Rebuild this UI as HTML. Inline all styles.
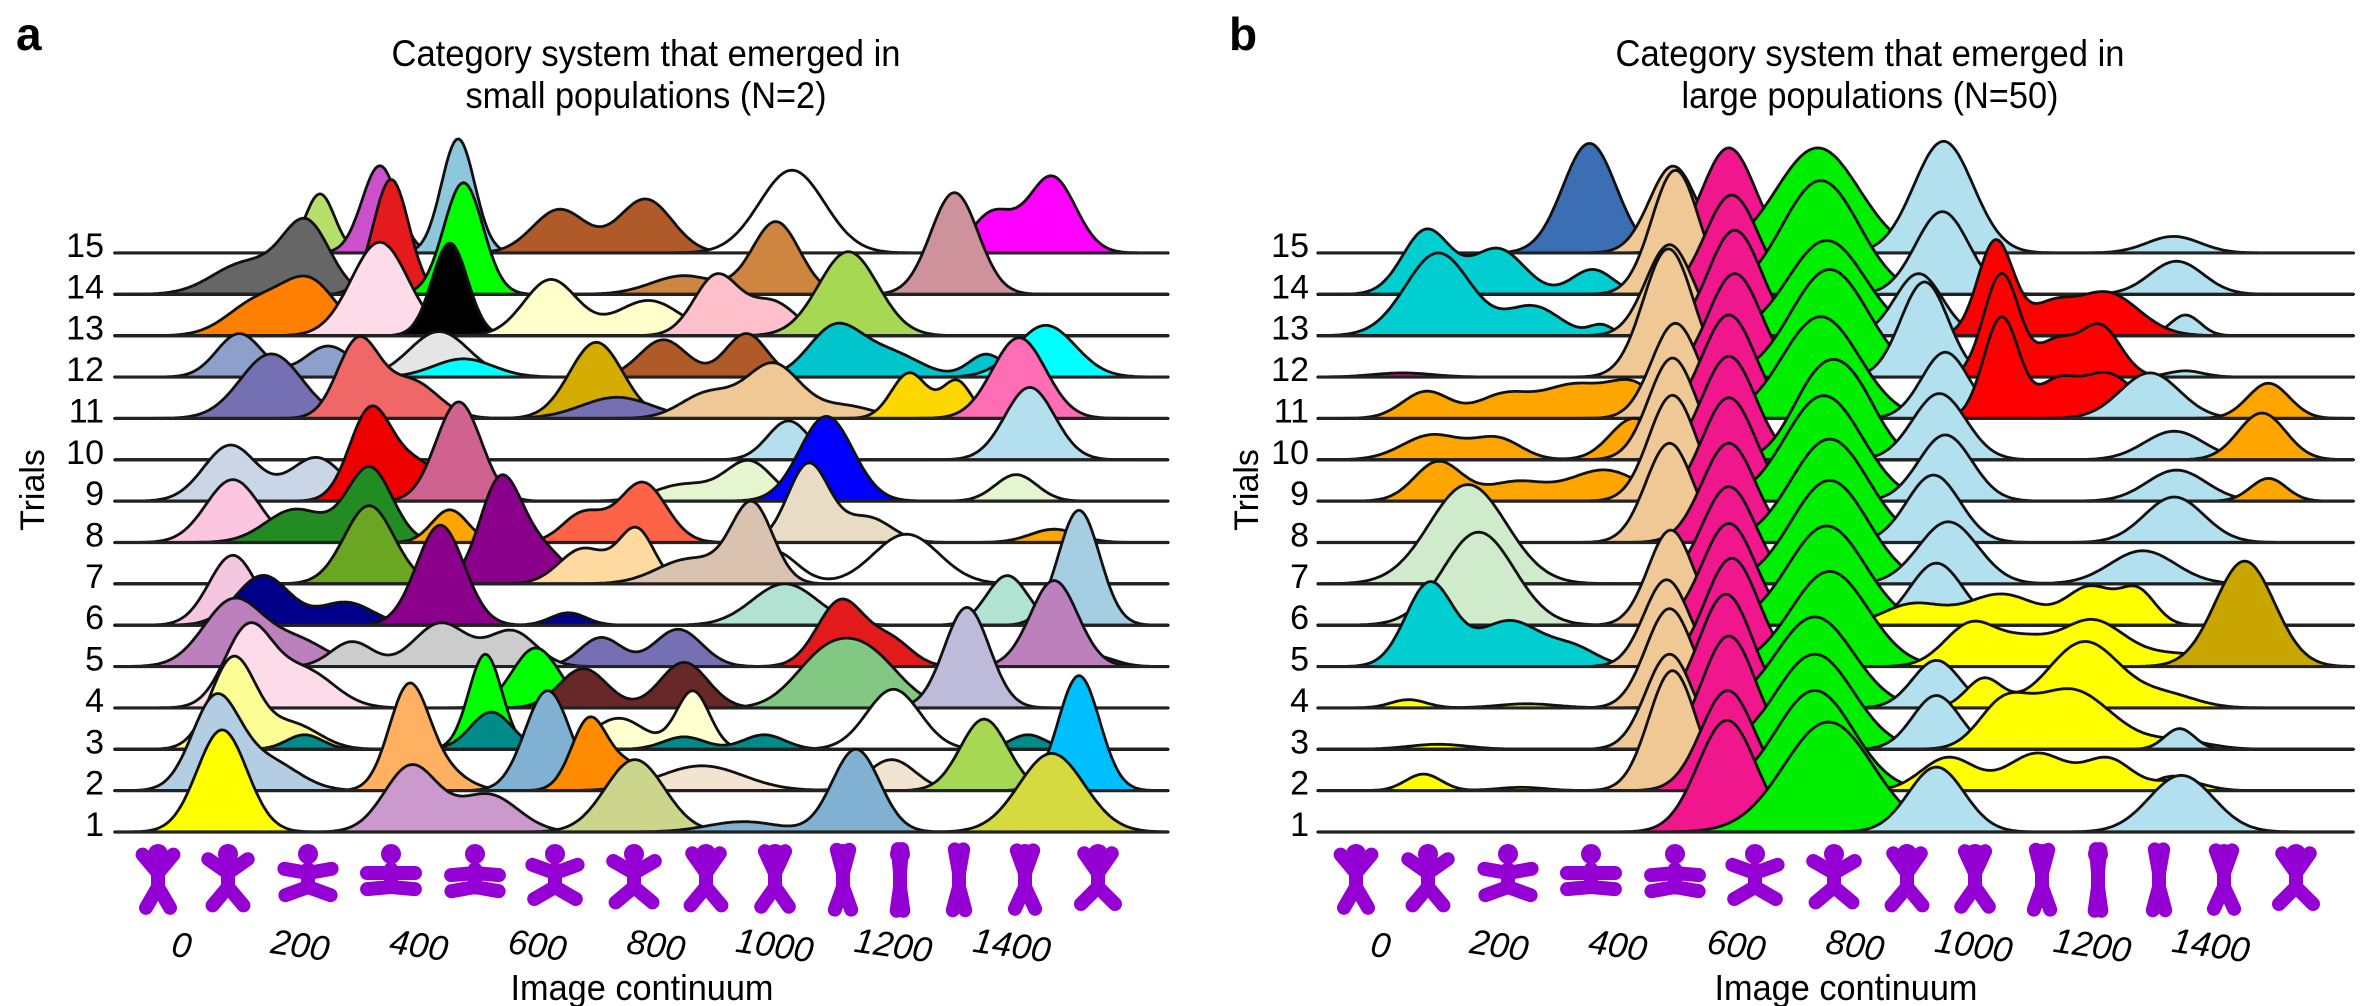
<!DOCTYPE html>
<html><head><meta charset="utf-8">
<style>
html,body{margin:0;padding:0;background:#fff;}
svg{display:block;}
text{font-family:"Liberation Sans",Arial,sans-serif;fill:#000;}
</style></head>
<body>
<svg id="fig" width="2370" height="1006" viewBox="0 0 2370 1006" xmlns="http://www.w3.org/2000/svg">
  <text x="16" y="50" font-size="46" font-weight="bold">a</text>
  <text x="1229" y="50" font-size="46" font-weight="bold">b</text>
  <text x="646" y="66" font-size="37" text-anchor="middle" textLength="509" lengthAdjust="spacingAndGlyphs">Category system that emerged in</text>
  <text x="646" y="108" font-size="37" text-anchor="middle" textLength="361" lengthAdjust="spacingAndGlyphs">small populations (N=2)</text>
  <text x="1870" y="66" font-size="37" text-anchor="middle" textLength="509" lengthAdjust="spacingAndGlyphs">Category system that emerged in</text>
  <text x="1870" y="108" font-size="37" text-anchor="middle" textLength="377" lengthAdjust="spacingAndGlyphs">large populations (N=50)</text>
  <text transform="translate(44,490) rotate(-90)" font-size="34" text-anchor="middle">Trials</text>
  <text transform="translate(1258,490) rotate(-90)" font-size="34" text-anchor="middle">Trials</text>
  <text x="642" y="1000" font-size="36" text-anchor="middle" textLength="263" lengthAdjust="spacingAndGlyphs">Image continuum</text>
  <text x="1846" y="1000" font-size="36" text-anchor="middle" textLength="263" lengthAdjust="spacingAndGlyphs">Image continuum</text>
  <g id="panelA"></g>
  <g id="panelB"></g>
</svg>
<script>
// ---- data ----
const trials = [1,2,3,4,5,6,7,8,9,10,11,12,13,14,15];
const tickValues = [0,200,400,600,800,1000,1200,1400];
const tickLabels = ["0","200","400","600","800","1000","1200","1400"];
// panel a components: [trial, color, [[mean, sd, height(in trial spacings)], ...]] in draw order
const compsA = [
 [15,'#b5de6b',[[236,25,1.43]]],
 [15,'#cc4fcc',[[337,30,2.11]]],
 [15,'#8ec6dc',[[469,28,2.76]]],
 [15,'#b05a2a',[[640,45,1.05],[785,45,1.3]]],
 [15,'#ffffff',[[1032,55,2.0]]],
 [15,'#ff00ff',[[1470,40,1.85],[1370,35,0.95]]],
 [14,'#666666',[[213,40,1.7],[110,55,0.75]]],
 [14,'#e41a1c',[[356,30,2.78]]],
 [14,'#00ff00',[[478,33,2.7]]],
 [14,'#cd853f',[[1005,40,1.75],[850,55,0.45]]],
 [14,'#cd929c',[[1306,40,2.46]]],
 [13,'#ff7f00',[[130,50,0.8],[220,45,1.25]]],
 [13,'#fddbe9',[[337,48,2.26]]],
 [13,'#000000',[[455,30,2.24]]],
 [13,'#ffffcc',[[625,45,1.35],[790,55,0.85]]],
 [13,'#ffbfcb',[[905,38,1.45],[1000,40,0.8]]],
 [13,'#a6d854',[[1127,50,2.03]]],
 [12,'#8da0cb',[[100,38,1.05],[250,40,0.75]]],
 [12,'#e5e5e5',[[437,50,1.1]]],
 [12,'#00ffff',[[478,50,0.44]]],
 [12,'#b05a2a',[[815,40,0.9],[955,35,1.05]]],
 [12,'#00c5cd',[[1105,45,1.2],[1200,50,0.55],[1360,30,0.55]]],
 [12,'#00ffff',[[1460,50,1.25]]],
 [11,'#7570b3',[[154,52,1.56]]],
 [11,'#f06767',[[300,35,1.85],[390,45,0.9]]],
 [11,'#d4ac00',[[702,45,1.84]]],
 [11,'#7570b3',[[737,60,0.51]]],
 [11,'#f0c896',[[1000,45,1.3],[890,45,0.6],[1120,50,0.3]]],
 [11,'#ffd700',[[1230,30,1.1],[1310,25,0.9]]],
 [11,'#ff6eb4',[[1415,45,1.95]]],
 [10,'#b3dfee',[[1026,35,0.94]]],
 [10,'#b3dfee',[[1433,42,1.75]]],
 [9,'#cbd5e8',[[85,45,1.35],[230,45,1.05]]],
 [9,'#ee0000',[[320,35,2.1],[400,45,0.9]]],
 [9,'#d06290',[[470,38,2.4]]],
 [9,'#e5f5d0',[[960,40,0.95],[850,50,0.4]]],
 [9,'#0000ff',[[1090,45,2.05]]],
 [9,'#e5f5d0',[[1410,35,0.64]]],
 [8,'#fcc5e0',[[89,45,1.52]]],
 [8,'#228b22',[[320,38,1.8],[195,50,0.8]]],
 [8,'#ffa500',[[455,30,0.79]]],
 [8,'#ff6347',[[780,40,1.45],[680,35,0.7]]],
 [8,'#e8dcc4',[[1060,35,1.9],[1160,40,0.6]]],
 [8,'#ffa500',[[1474,40,0.32]]],
 [7,'#6aa621',[[319,42,1.89]]],
 [7,'#8b008b',[[540,35,2.45],[610,40,0.8]]],
 [7,'#ffdaa0',[[770,30,1.3],[680,40,0.85]]],
 [7,'#ffffff',[[1000,40,0.8],[1225,55,1.2]]],
 [7,'#d9c2b0',[[965,35,1.9],[860,55,0.6]]],
 [6,'#f4c6e0',[[89,40,1.69]]],
 [6,'#00008b',[[140,45,1.2],[280,45,0.55],[655,30,0.3]]],
 [6,'#8b008b',[[439,40,2.42]]],
 [6,'#b2e2d2',[[1020,55,1.0],[1395,35,1.2]]],
 [6,'#a6cee3',[[1516,35,2.78]]],
 [5,'#7570b3',[[60,40,0.23],[710,35,0.7],[840,40,0.9],[1539,35,0.27]]],
 [5,'#bc80bd',[[90,50,1.6],[200,50,0.6]]],
 [5,'#cccccc',[[290,35,0.6],[440,45,1.05],[560,40,0.85]]],
 [5,'#e31a1c',[[1115,40,1.6],[1200,35,0.6]]],
 [5,'#bc80bd',[[1474,40,2.08]]],
 [4,'#fddbe9',[[115,40,1.9],[210,50,0.9]]],
 [4,'#00ff00',[[600,40,1.45]]],
 [4,'#692828',[[680,40,0.95],[850,40,1.1]]],
 [4,'#82c882',[[1080,50,1.0],[1160,55,1.25]]],
 [4,'#bebada',[[1327,38,2.43]]],
 [3,'#fdfd96',[[90,38,2.2],[190,45,0.6]]],
 [3,'#00ff00',[[515,28,2.3]]],
 [3,'#ffffd0',[[865,28,1.4],[740,45,0.75]]],
 [3,'#ffffff',[[1203,45,1.45]]],
 [3,'#008b8b',[[210,30,0.35],[525,35,0.9],[850,35,0.3],[985,35,0.35],[1430,30,0.35]]],
 [2,'#b3cde3',[[60,40,2.2],[150,50,0.7]]],
 [2,'#ffb060',[[385,33,2.4],[440,40,0.5]]],
 [2,'#80b1d3',[[620,38,2.42]]],
 [2,'#ff8c00',[[690,30,1.7],[760,35,0.6]]],
 [2,'#f2e4d0',[[880,70,0.6],[1200,40,0.75]]],
 [2,'#a6d854',[[1356,40,1.73]]],
 [2,'#00bfff',[[1516,35,2.78]]],
 [1,'#ffff00',[[71,42,2.47]]],
 [1,'#cc99cc',[[390,45,1.6],[520,50,0.9]]],
 [1,'#cbd58b',[[767,50,1.75]]],
 [1,'#80b1d3',[[1140,40,2.0],[950,60,0.25]]],
 [1,'#d4da40',[[1470,55,1.9]]]
];
// panel b components
const compsB = [
 [15,'#3c6eb4',[[355,45,2.65]]],
 [15,'#f0c896',[[496,40,2.1]]],
 [15,'#f0168c',[[590,45,2.54]]],
 [15,'#00ee00',[[740,70,2.54]]],
 [15,'#b3e0ef',[[952,50,2.7],[1340,45,0.4]]],
 [14,'#00ced1',[[80,40,1.55],[200,45,1.1],[360,35,0.6]]],
 [14,'#f0c896',[[500,40,3.0]]],
 [14,'#f0168c',[[595,45,2.4]]],
 [14,'#00ee00',[[745,65,2.75]]],
 [14,'#b3e0ef',[[950,45,2.0],[1345,45,0.8]]],
 [13,'#00ced1',[[100,55,2.0],[260,45,0.7],[375,20,0.25]]],
 [13,'#f0c896',[[490,40,2.2]]],
 [13,'#f0168c',[[600,45,2.55]]],
 [13,'#00ee00',[[755,65,2.3]]],
 [13,'#b3e0ef',[[910,40,1.5],[1360,25,0.5]]],
 [13,'#ff0000',[[1040,30,2.3],[1130,35,0.6],[1225,55,1.05]]],
 [12,'#c71585',[[40,50,0.1]]],
 [12,'#f0c896',[[488,42,3.1]]],
 [12,'#f0168c',[[600,45,2.5]]],
 [12,'#00ee00',[[760,65,2.6]]],
 [12,'#b3e0ef',[[920,40,2.3],[1360,30,0.15]]],
 [12,'#ff0000',[[1050,30,2.5],[1140,30,0.8],[1215,35,1.25]]],
 [11,'#ffa500',[[80,40,0.65],[210,45,0.55],[330,55,0.8],[430,40,0.75]]],
 [11,'#f0c896',[[500,40,2.3]]],
 [11,'#f0168c',[[590,45,2.5]]],
 [11,'#00ee00',[[745,65,2.46]]],
 [11,'#b3e0ef',[[955,40,1.6]]],
 [11,'#ff0000',[[1050,30,2.45],[1140,30,0.7],[1225,50,1.1]]],
 [11,'#b3e0ef',[[1300,50,1.1]]],
 [11,'#ffa500',[[1500,35,0.85]]],
 [10,'#ffa500',[[90,50,0.6],[200,40,0.5],[430,40,1.0]]],
 [10,'#f0c896',[[495,40,2.46]]],
 [10,'#f0168c',[[590,45,2.5]]],
 [10,'#00ee00',[[735,45,1.6],[800,45,1.55]]],
 [10,'#b3e0ef',[[945,45,1.6],[1341,50,0.69]]],
 [10,'#ffa500',[[1489,40,1.13]]],
 [9,'#ffa500',[[100,40,0.95],[230,50,0.45],[380,60,0.75]]],
 [9,'#f0c896',[[495,40,2.56]]],
 [9,'#f0168c',[[590,45,2.5]]],
 [9,'#00ee00',[[750,65,2.55]]],
 [9,'#b3e0ef',[[955,45,1.6],[1345,50,0.75]]],
 [9,'#ffa500',[[1500,30,0.55]]],
 [8,'#f0c896',[[490,40,2.4]]],
 [8,'#f0168c',[[590,45,2.4]]],
 [8,'#00ee00',[[760,65,2.5]]],
 [8,'#b3e0ef',[[935,45,1.63],[1341,50,1.1]]],
 [7,'#d0ebcc',[[150,65,2.4]]],
 [7,'#f0168c',[[590,45,2.35]]],
 [7,'#00ee00',[[760,65,2.5]]],
 [7,'#b3e0ef',[[960,50,1.5],[1288,55,0.8]]],
 [6,'#d0ebcc',[[168,60,2.25]]],
 [6,'#f0c896',[[492,38,2.3]]],
 [6,'#f0168c',[[590,45,2.46]]],
 [6,'#00ee00',[[755,65,2.4]]],
 [6,'#b3e0ef',[[940,45,1.5]]],
 [6,'#ffff00',[[900,50,0.5],[1050,60,0.75],[1200,40,0.9],[1280,30,0.8]]],
 [5,'#00ced1',[[85,40,2.0],[220,55,1.1],[330,40,0.4]]],
 [5,'#f0c896',[[485,38,2.1]]],
 [5,'#f0168c',[[595,45,2.62]]],
 [5,'#00ee00',[[760,65,2.3]]],
 [5,'#ffff00',[[1000,45,1.05],[1090,40,0.5],[1200,55,1.1],[1350,70,0.3]]],
 [5,'#c9a500',[[1460,50,2.55]]],
 [4,'#ffff00',[[50,30,0.2],[250,50,0.1]]],
 [4,'#f0c896',[[490,40,2.4]]],
 [4,'#f0168c',[[585,45,2.75]]],
 [4,'#00ee00',[[735,65,2.2]]],
 [4,'#b3e0ef',[[940,40,1.15]]],
 [4,'#ffff00',[[1020,30,0.7],[1190,60,1.6],[1330,50,0.3]]],
 [3,'#ffff00',[[100,50,0.12]]],
 [3,'#f0c896',[[490,40,2.3]]],
 [3,'#f0168c',[[590,45,2.74]]],
 [3,'#00ee00',[[735,65,2.3]]],
 [3,'#b3e0ef',[[940,40,1.3]]],
 [3,'#ffff00',[[1050,40,0.9],[1165,70,1.45],[1350,50,0.2]]],
 [3,'#b3e0ef',[[1350,25,0.5]]],
 [2,'#ffff00',[[75,30,0.4],[240,40,0.08]]],
 [2,'#f0c896',[[495,40,2.9]]],
 [2,'#f0168c',[[588,45,2.42]]],
 [2,'#00ee00',[[735,65,2.42]]],
 [2,'#b3e0ef',[[1340,35,0.35]]],
 [2,'#ffff00',[[960,45,0.8],[1110,50,0.9],[1230,40,0.75],[1350,40,0.25]]],
 [1,'#f0168c',[[587,49,2.7]]],
 [1,'#00ee00',[[758,75,2.66]]],
 [1,'#b3e0ef',[[940,47,1.57],[1353,54,1.37]]]
];

// ---- layout ----
const NS = 'http://www.w3.org/2000/svg';
const SPACING = 41.36;
function yBase(t){ return 832 - (t-1)*SPACING; }
const panels = [
  {id:'panelA', key:'a', x0:180, k:0.593, vmin:-110, vmax:1666, comps:compsA, labelX:104,
   icons:[158,228,308,391,475,555,634,706,775,843,900,959,1025,1098]},
  {id:'panelB', key:'b', x0:1379, k:0.593, vmin:-103, vmax:1643, comps:compsB, labelX:1309,
   icons:[1356,1428,1508,1591,1675,1755,1834,1907,1975,2042,2098,2159,2224,2296]}
];
const poses = [[-40,40,30,-30],[-55,55,40,-40],[-80,80,70,-70],[-90,90,85,-85],[-95,95,80,-80],
  [-70,70,60,-60],[-60,60,50,-50],[-35,35,40,-40],[-25,25,35,-35],[-15,15,20,-20],[-5,5,8,-8],
  [-10,10,15,-15],[-20,20,25,-25],[-35,35,45,-45]];

function density(cs, v){
  let s = 0;
  for (const c of cs){ const z=(v-c[0])/c[1]; s += c[2]*Math.exp(-0.5*z*z); }
  return s;
}

panels.forEach(p => {
  const g = document.getElementById(p.id);
  const sx = v => p.x0 + v*p.k;
  for (let t = 15; t >= 1; t--){
    const tg = document.createElementNS(NS,'g');
    
    
    g.appendChild(tg);
    const yb = yBase(t);
    p.comps.filter(c => c[0]===t).forEach((c, i) => {
      let d = 'M'+sx(p.vmin).toFixed(1)+','+yb;
      for (let v = p.vmin; v <= p.vmax; v += 4){
        d += 'L'+sx(v).toFixed(1)+','+(yb - SPACING*density(c[2], v)).toFixed(1);
      }
      d += 'L'+sx(p.vmax).toFixed(1)+','+yb+'Z';
      const path = document.createElementNS(NS,'path');
      path.setAttribute('d', d);
      path.setAttribute('fill', c[1]);
      path.setAttribute('stroke', '#111');
      path.setAttribute('stroke-width', '2.8');
      path.setAttribute('stroke-linejoin', 'round');
      
      
      tg.appendChild(path);
    });
    const ln = document.createElementNS(NS,'line');
    ln.setAttribute('x1', sx(p.vmin)); ln.setAttribute('x2', sx(p.vmax));
    ln.setAttribute('y1', yb); ln.setAttribute('y2', yb);
    ln.setAttribute('stroke', '#222'); ln.setAttribute('stroke-width', '3.2');
    
    
    tg.appendChild(ln);
  }
  trials.forEach(t => {
    const tx = document.createElementNS(NS,'text');
    tx.setAttribute('x', p.labelX); tx.setAttribute('y', yBase(t)+4);
    tx.setAttribute('font-size', '34'); tx.setAttribute('text-anchor', 'end');
    tx.textContent = String(t);
    
    
    g.appendChild(tx);
  });
  tickValues.forEach((v, i) => {
    const tx = document.createElementNS(NS,'text');
    const x = sx(v);
    tx.setAttribute('transform', 'translate('+x+',957) rotate(8)');
    tx.setAttribute('font-size', '35'); tx.setAttribute('font-style', 'italic');
    tx.setAttribute('text-anchor', 'middle');
    tx.textContent = tickLabels[i];
    
    
    g.appendChild(tx);
  });
  p.icons.forEach((ix, i) => {
    const pose = poses[i];
    const ig = document.createElementNS(NS,'g');
    ig.setAttribute('transform', 'translate('+ix+',877)');
    
    
    const rad = a => a*Math.PI/180;
    const limb = (ang, len, ox, oy) => 'M'+ox+','+oy+'L'+(ox+len*Math.sin(rad(ang))).toFixed(1)+','+(oy-len*Math.cos(rad(ang))).toFixed(1);
    const d = 'M0,-8L0,10' + limb(pose[0],24,0,-4) + limb(pose[1],24,0,-4)
      + limb(180+pose[2],24,0,10) + limb(180+pose[3],24,0,10);
    const body = document.createElementNS(NS,'path');
    body.setAttribute('d', d);
    body.setAttribute('stroke', '#9400d3'); body.setAttribute('stroke-width', '14');
    body.setAttribute('stroke-linecap', 'round'); body.setAttribute('fill', 'none');
    ig.appendChild(body);
    const head = document.createElementNS(NS,'circle');
    head.setAttribute('cx', 0); head.setAttribute('cy', -23); head.setAttribute('r', 10);
    head.setAttribute('fill', '#9400d3');
    ig.appendChild(head);
    g.appendChild(ig);
  });
});
</script>
</body></html>
